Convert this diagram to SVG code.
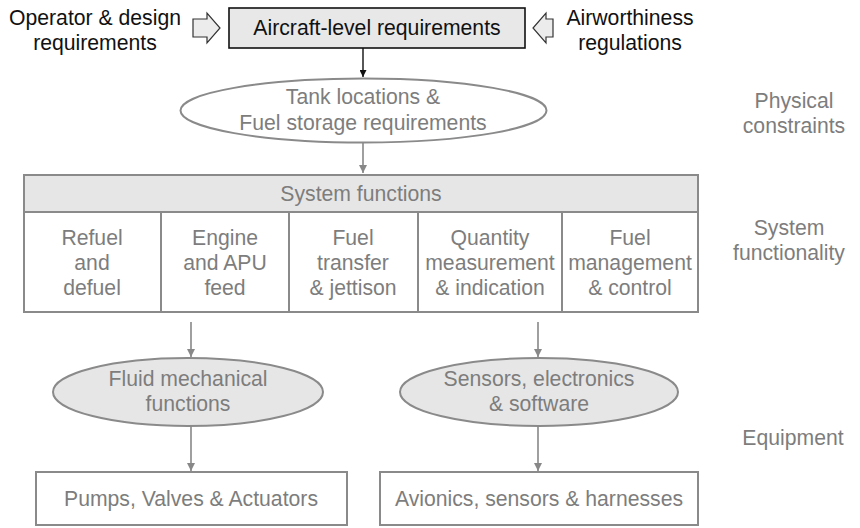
<svg xmlns="http://www.w3.org/2000/svg" width="860" height="528" viewBox="0 0 860 528">
  <defs>
    <marker id="headBlack" viewBox="0 0 10 10" refX="10" refY="5" markerWidth="7" markerHeight="7" markerUnits="userSpaceOnUse" orient="auto">
      <path d="M0,0 L10,5 L0,10 z" fill="#111"/>
    </marker>
    <marker id="headGray" viewBox="0 0 10 10" refX="10" refY="5" markerWidth="8" markerHeight="8" markerUnits="userSpaceOnUse" orient="auto">
      <path d="M0,0 L10,5 L0,10 z" fill="#888"/>
    </marker>
  </defs>
  <style>
    text { font-family: "Liberation Sans", Arial, sans-serif; font-size: 21.2px; text-anchor: middle; }
    .dark { fill: #111; }
    .grey { fill: #7d7d7d; }
    .shape { fill: #fff; stroke: #8a8a8a; stroke-width: 2; }
    .shaded { fill: #e6e6e6; stroke: #8a8a8a; stroke-width: 2; }
    .edge { stroke: #888; stroke-width: 1.6; fill: none; }
    .edgeDark { stroke: #111; stroke-width: 1.4; fill: none; }
    .hollow { fill: #ececec; stroke: #333; stroke-width: 1.2; }
  </style>
  <rect width="860" height="528" fill="#fff"/>

  <!-- inputs to the aircraft-level requirements -->
  <g id="operator">
    <text class="dark" x="95" y="25">Operator &amp; design</text>
    <text class="dark" x="95" y="50">requirements</text>
  </g>
  <g id="airworthiness">
    <text class="dark" x="630" y="25">Airworthiness</text>
    <text class="dark" x="630" y="50">regulations</text>
  </g>
  <g id="input-arrows">
    <path class="hollow" d="M193,19 H207 V13 L220,28 L207,43 V37 H193 Z"/>
    <path class="hollow" d="M553,19 H546 V13 L533,28 L546,43 V37 H553 Z"/>
  </g>

  <g id="aircraft-level">
    <rect x="229" y="8" width="296" height="40" fill="#e8e8e8" stroke="#111" stroke-width="1.6"/>
    <text class="dark" x="377" y="35">Aircraft-level requirements</text>
  </g>

  <g id="tank-locations">
    <ellipse class="shape" cx="363.5" cy="110.5" rx="183" ry="32"/>
    <text class="grey" x="363" y="104">Tank locations &amp;</text>
    <text class="grey" x="363" y="130">Fuel storage requirements</text>
  </g>

  <g id="system-functions">
    <rect class="shaded" x="24" y="175" width="674" height="37"/>
    <rect class="shape" x="24" y="212" width="674" height="100"/>
    <line class="shape" x1="161" y1="212" x2="161" y2="312"/>
    <line class="shape" x1="289" y1="212" x2="289" y2="312"/>
    <line class="shape" x1="418" y1="212" x2="418" y2="312"/>
    <line class="shape" x1="562" y1="212" x2="562" y2="312"/>
    <text class="grey" x="361" y="201">System functions</text>
  </g>
  <g id="refuel">
    <text class="grey" x="92" y="245">Refuel</text>
    <text class="grey" x="92" y="270">and</text>
    <text class="grey" x="92" y="295">defuel</text>
  </g>
  <g id="engine-feed">
    <text class="grey" x="225" y="245">Engine</text>
    <text class="grey" x="225" y="270">and APU</text>
    <text class="grey" x="225" y="295">feed</text>
  </g>
  <g id="transfer">
    <text class="grey" x="353" y="245">Fuel</text>
    <text class="grey" x="353" y="270">transfer</text>
    <text class="grey" x="353" y="295">&amp; jettison</text>
  </g>
  <g id="quantity">
    <text class="grey" x="490" y="245">Quantity</text>
    <text class="grey" x="490" y="270">measurement</text>
    <text class="grey" x="490" y="295">&amp; indication</text>
  </g>
  <g id="management">
    <text class="grey" x="630" y="245">Fuel</text>
    <text class="grey" x="630" y="270">management</text>
    <text class="grey" x="630" y="295">&amp; control</text>
  </g>

  <g id="fluid-mechanical">
    <ellipse class="shaded" cx="188" cy="392" rx="135" ry="34"/>
    <text class="grey" x="188" y="386">Fluid mechanical</text>
    <text class="grey" x="188" y="411">functions</text>
  </g>
  <g id="sensors-electronics">
    <ellipse class="shaded" cx="539" cy="392" rx="139" ry="34"/>
    <text class="grey" x="539" y="386">Sensors, electronics</text>
    <text class="grey" x="539" y="411">&amp; software</text>
  </g>

  <g id="pumps-valves">
    <rect class="shape" x="36" y="472" width="311" height="53"/>
    <text class="grey" x="191" y="506">Pumps, Valves &amp; Actuators</text>
  </g>
  <g id="avionics">
    <rect class="shape" x="380" y="472" width="318" height="53"/>
    <text class="grey" x="539" y="506">Avionics, sensors &amp; harnesses</text>
  </g>

  <!-- level labels -->
  <g id="level-physical">
    <text class="grey" x="794" y="108">Physical</text>
    <text class="grey" x="794" y="133">constraints</text>
  </g>
  <g id="level-system">
    <text class="grey" x="789" y="235">System</text>
    <text class="grey" x="789" y="260">functionality</text>
  </g>
  <g id="level-equipment">
    <text class="grey" x="793" y="445">Equipment</text>
  </g>

  <g id="connectors">
    <line class="edgeDark" x1="363" y1="48" x2="363" y2="77" marker-end="url(#headBlack)"/>
    <line class="edge" x1="363" y1="143" x2="363" y2="173" marker-end="url(#headGray)"/>
    <line class="edge" x1="191" y1="322" x2="191" y2="357" marker-end="url(#headGray)"/>
    <line class="edge" x1="538" y1="322" x2="538" y2="357" marker-end="url(#headGray)"/>
    <line class="edge" x1="191" y1="426" x2="191" y2="471" marker-end="url(#headGray)"/>
    <line class="edge" x1="538" y1="426" x2="538" y2="471" marker-end="url(#headGray)"/>
  </g>
</svg>
